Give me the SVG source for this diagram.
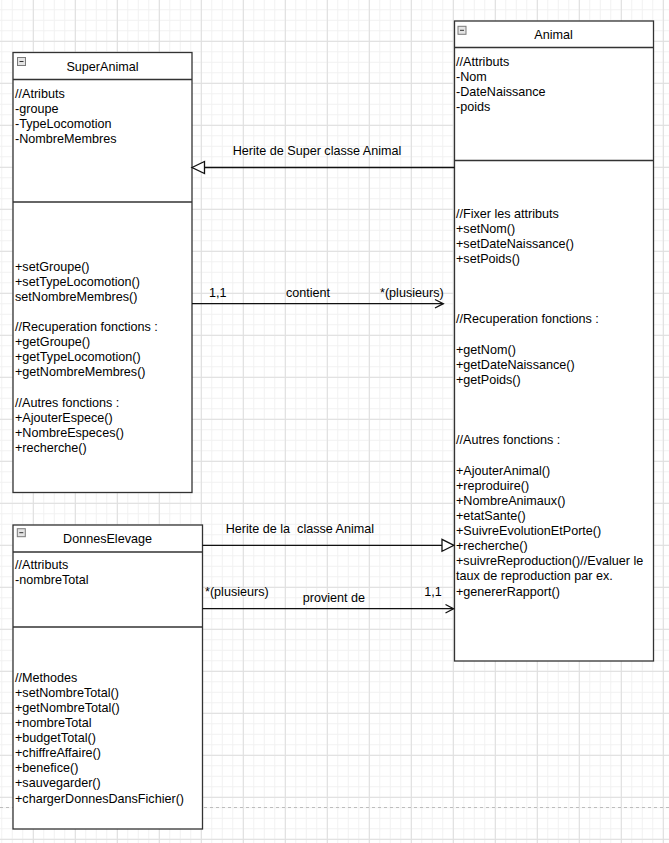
<svg xmlns="http://www.w3.org/2000/svg" width="669" height="843" viewBox="0 0 669 843">
<defs>
<pattern id="minor" width="10.5" height="10.5" patternUnits="userSpaceOnUse" x="11.8" y="9.3">
<rect x="0" y="0" width="10.5" height="1" fill="#f1f1f1"/>
<rect x="0" y="0" width="1" height="10.5" fill="#f1f1f1"/>
</pattern>
<pattern id="major" width="42" height="42" patternUnits="userSpaceOnUse" x="32.8" y="40.8">
<rect x="0" y="0" width="42" height="1" fill="#dedede"/>
<rect x="0" y="0" width="1" height="42" fill="#dedede"/>
</pattern>
</defs>
<style>
text { font-family: "Liberation Sans", Arial, sans-serif; font-size: 12.6px; fill: #000; white-space: pre; }
.title { text-anchor: middle; }
.box { fill: #fff; stroke: #333; stroke-width: 1.3; }
.sep { stroke: #333; stroke-width: 1.3; fill: none; }
.icon { fill: #e4e4e4; stroke: #7a7a7a; stroke-width: 1; }
.iconbar { stroke: #333; stroke-width: 1; }
.edge { stroke: #111; stroke-width: 1.3; fill: none; }
.tri { fill: #fff; stroke: #111; stroke-width: 1.3; }
</style>
<rect width="669" height="843" fill="#fff"/>
<rect width="669" height="843" fill="url(#minor)"/>
<rect width="669" height="843" fill="url(#major)"/>
<line x1="0" y1="807.5" x2="669" y2="807.5" stroke="#bdbdbd" stroke-width="1" stroke-dasharray="3 3"/>

<g id="SuperAnimal">
<rect class="box" x="13" y="52.5" width="179" height="440"/>
<line class="sep" x1="13" y1="79.5" x2="192" y2="79.5"/>
<line class="sep" x1="13" y1="202" x2="192" y2="202"/>
<rect class="icon" x="17.5" y="57.5" width="8" height="8"/>
<line class="iconbar" x1="19.5" y1="61.5" x2="23.5" y2="61.5"/>
<text class="title" x="102.5" y="70.5">SuperAnimal</text>
<text x="15" y="97.5">//Atributs</text>
<text x="15" y="112.6">-groupe</text>
<text x="15" y="127.7">-TypeLocomotion</text>
<text x="15" y="142.9">-NombreMembres</text>
<text x="15" y="270.5">+setGroupe()</text>
<text x="15" y="285.6">+setTypeLocomotion()</text>
<text x="15" y="300.7">setNombreMembres()</text>
<text x="15" y="331.0">//Recuperation fonctions :</text>
<text x="15" y="346.1">+getGroupe()</text>
<text x="15" y="361.2">+getTypeLocomotion()</text>
<text x="15" y="376.3">+getNombreMembres()</text>
<text x="15" y="406.6">//Autres fonctions :</text>
<text x="15" y="421.7">+AjouterEspece()</text>
<text x="15" y="436.8">+NombreEspeces()</text>
<text x="15" y="451.9">+recherche()</text>
</g>

<g id="Animal">
<rect class="box" x="454.5" y="21" width="199" height="640"/>
<line class="sep" x1="454.5" y1="47.5" x2="653.5" y2="47.5"/>
<line class="sep" x1="454.5" y1="160.5" x2="653.5" y2="160.5"/>
<rect class="icon" x="458" y="26.3" width="8" height="8"/>
<line class="iconbar" x1="460" y1="30.3" x2="464" y2="30.3"/>
<text class="title" x="553.5" y="39">Animal</text>
<text x="456" y="65.5">//Attributs</text>
<text x="456" y="80.6">-Nom</text>
<text x="456" y="95.7">-DateNaissance</text>
<text x="456" y="110.9">-poids</text>
<text x="456" y="217.5">//Fixer les attributs</text>
<text x="456" y="232.6">+setNom()</text>
<text x="456" y="247.7">+setDateNaissance()</text>
<text x="456" y="262.9">+setPoids()</text>
<text x="456" y="323.3">//Recuperation fonctions :</text>
<text x="456" y="353.6">+getNom()</text>
<text x="456" y="368.7">+getDateNaissance()</text>
<text x="456" y="383.8">+getPoids()</text>
<text x="456" y="444.3">//Autres fonctions :</text>
<text x="456" y="474.5">+AjouterAnimal()</text>
<text x="456" y="489.7">+reproduire()</text>
<text x="456" y="504.8">+NombreAnimaux()</text>
<text x="456" y="519.9">+etatSante()</text>
<text x="456" y="535.0">+SuivreEvolutionEtPorte()</text>
<text x="456" y="550.1">+recherche()</text>
<text x="456" y="565.3">+suivreReproduction()//Evaluer le</text>
<text x="456" y="580.4">taux de reproduction par ex.</text>
<text x="456" y="595.5">+genererRapport()</text>
</g>

<g id="DonnesElevage">
<rect class="box" x="13" y="525" width="189.5" height="304"/>
<line class="sep" x1="13" y1="552" x2="202.5" y2="552"/>
<line class="sep" x1="13" y1="627" x2="202.5" y2="627"/>
<rect class="icon" x="17.3" y="528.7" width="8" height="8"/>
<line class="iconbar" x1="19.3" y1="532.7" x2="23.3" y2="532.7"/>
<text class="title" x="107.5" y="543">DonnesElevage</text>
<text x="15" y="568.5">//Attributs</text>
<text x="15" y="583.6">-nombreTotal</text>
<text x="15" y="681.5">//Methodes</text>
<text x="15" y="696.6">+setNombreTotal()</text>
<text x="15" y="711.7">+getNombreTotal()</text>
<text x="15" y="726.9">+nombreTotal</text>
<text x="15" y="742.0">+budgetTotal()</text>
<text x="15" y="757.1">+chiffreAffaire()</text>
<text x="15" y="772.2">+benefice()</text>
<text x="15" y="787.3">+sauvegarder()</text>
<text x="15" y="802.5">+chargerDonnesDansFichier()</text>
</g>

<g id="connectors">
<g id="edge-herite-super">
<line class="edge" x1="454.5" y1="167.5" x2="204.5" y2="167.5"/>
<polygon class="tri" points="192,167.5 204.5,161.5 204.5,173.5"/>
<text x="317" y="154.5" text-anchor="middle">Herite de Super classe Animal</text>
</g>
<g id="edge-contient">
<line class="edge" x1="192" y1="303.7" x2="443.3" y2="303.7"/>
<polyline class="edge" points="435,299.5 443.3,303.7 435,308"/>
<text x="209" y="297">1,1</text>
<text x="286" y="297">contient</text>
<text x="380" y="297">*(plusieurs)</text>
</g>
<g id="edge-herite-animal">
<line class="edge" x1="202.5" y1="545.3" x2="442" y2="545.3"/>
<polygon class="tri" points="454,545.3 442,539.3 442,551.3"/>
<text x="225.7" y="533">Herite de la  classe Animal</text>
</g>
<g id="edge-provient">
<line class="edge" x1="202.5" y1="608.7" x2="453.5" y2="608.7"/>
<polyline class="edge" points="445.5,604.5 453.5,608.7 445.5,613"/>
<text x="205" y="596">*(plusieurs)</text>
<text x="302.7" y="602">provient de</text>
<text x="424.3" y="596">1,1</text>
</g>
</g>
</svg>
